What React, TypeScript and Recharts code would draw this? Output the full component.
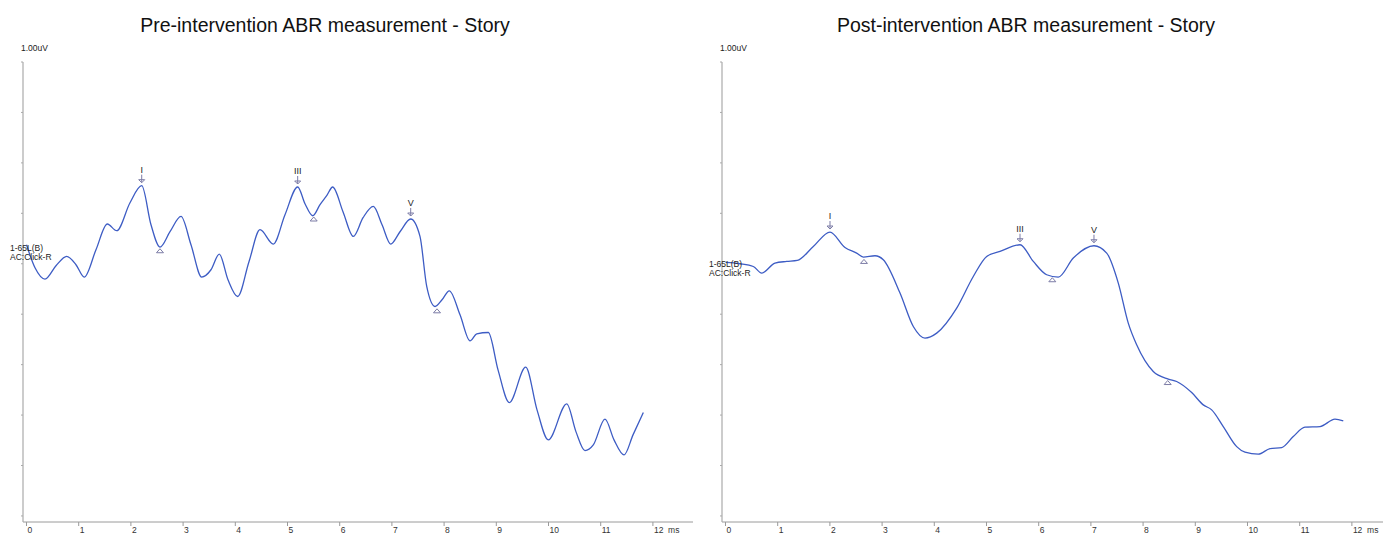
import React from "react";
import { ComposedChart, Line, Scatter, XAxis, YAxis } from "recharts";

// time (ms) values and amplitudes (arbitrary units, 1 unit = one y-tick step)
const preTime = [0, 0.163, 0.354, 0.565, 0.77, 0.948, 1.107, 1.331, 1.548, 1.728, 1.983, 2.207, 2.385, 2.557, 2.749, 2.96, 3.151, 3.356, 3.534, 3.693, 3.86, 4.046, 4.262, 4.473, 4.728, 4.952, 5.195, 5.335, 5.483, 5.623, 5.751, 5.866, 6.063, 6.261, 6.447, 6.644, 6.811, 6.977, 7.155, 7.36, 7.538, 7.667, 7.826, 7.96, 8.1, 8.305, 8.496, 8.625, 8.847, 9.033, 9.249, 9.563, 9.78, 9.996, 10.349, 10.527, 10.699, 10.858, 11.082, 11.255, 11.446, 11.619, 11.816];
const preAmp = [5.377, 4.92, 4.696, 4.96, 5.145, 4.98, 4.736, 5.278, 5.788, 5.655, 6.21, 6.548, 5.774, 5.331, 5.635, 5.938, 5.377, 4.736, 4.881, 5.192, 4.683, 4.351, 5.04, 5.675, 5.391, 5.972, 6.522, 6.19, 5.952, 6.171, 6.349, 6.522, 6.032, 5.542, 5.913, 6.137, 5.774, 5.391, 5.635, 5.887, 5.542, 4.55, 4.153, 4.286, 4.464, 3.988, 3.472, 3.611, 3.637, 2.897, 2.248, 2.95, 2.103, 1.508, 2.222, 1.667, 1.296, 1.409, 1.919, 1.508, 1.21, 1.607, 2.05];

const postTime = [0, 0.278, 0.533, 0.693, 0.948, 1.172, 1.375, 1.682, 2.002, 2.289, 2.513, 2.64, 2.864, 3.023, 3.343, 3.598, 3.822, 4.046, 4.429, 4.747, 5.004, 5.259, 5.642, 5.897, 6.153, 6.375, 6.663, 7.059, 7.303, 7.525, 7.716, 7.877, 8.195, 8.483, 8.644, 8.931, 9.153, 9.314, 9.536, 9.793, 9.952, 10.207, 10.431, 10.655, 10.877, 11.101, 11.389, 11.676, 11.835];
const postAmp = [5.026, 5.0, 4.946, 4.815, 5.014, 5.046, 5.066, 5.343, 5.629, 5.323, 5.212, 5.133, 5.159, 5.079, 4.419, 3.756, 3.526, 3.625, 4.121, 4.748, 5.145, 5.244, 5.377, 5.046, 4.782, 4.736, 5.113, 5.357, 5.212, 4.617, 3.823, 3.393, 2.863, 2.712, 2.665, 2.446, 2.202, 2.103, 1.772, 1.375, 1.264, 1.224, 1.335, 1.355, 1.573, 1.76, 1.772, 1.919, 1.885];

// peak markers (I, III, V)
const peakLabels = ["I", "III", "V"];
const prePeakTime = [2.207, 5.195, 7.36];
const prePeakAmp = [6.548, 6.522, 5.887];
const postPeakTime = [2.002, 5.642, 7.059];
const postPeakAmp = [5.629, 5.377, 5.357];

// trough markers (triangles)
const preTroughTime = [2.557, 5.502, 7.864];
const preTroughAmp = [5.258, 5.887, 4.067];
const postTroughTime = [2.653, 6.261, 8.471];
const postTroughAmp = [5.046, 4.683, 2.645];

const xTicks = [0, 1, 2, 3, 4, 5, 6, 7, 8, 9, 10, 11, 12];
const yTicks = [0, 1, 2, 3, 4, 5, 6, 7, 8, 9];

const titles = ["Pre-intervention ABR measurement - Story", "Post-intervention ABR measurement - Story"];
const scaleLabel = "1.00uV";
const channelLabel = ["1-65L(B)", "AC:Click-R"];

const FONT = "'Liberation Sans', Arial, Helvetica, sans-serif";
const LINE = "#3d5cc4";
const MARK = "#7c7ca6";

const zip = (t: number[], v: number[]) => t.map((x, i) => ({ t: x, v: v[i] }));

const PeakShape = (props: any) => {
  const { cx, cy, payload } = props;
  if (cx == null || cy == null) return <g />;
  return (
    <g>
      <text x={cx} y={cy - 13} textAnchor="middle" fontSize={9} fontFamily={FONT} fill="#222">
        {payload.label}
      </text>
      <line x1={cx} y1={cy - 11} x2={cx} y2={cy - 3} stroke={MARK} strokeWidth={1} />
      <polyline points={`${cx - 3},${cy - 6} ${cx},${cy - 3} ${cx + 3},${cy - 6}`} fill="none" stroke={MARK} strokeWidth={1} />
      <line x1={cx - 3} y1={cy - 6} x2={cx + 3} y2={cy - 6} stroke={MARK} strokeWidth={1} />
    </g>
  );
};

const TroughShape = (props: any) => {
  const { cx, cy } = props;
  if (cx == null || cy == null) return <g />;
  return (
    <path d={`M${cx - 3.5},${cy + 2} L${cx},${cy - 2} L${cx + 3.5},${cy + 2} Z`} fill="none" stroke={MARK} strokeWidth={1} />
  );
};

const NoTick = () => <g />;

type PanelProps = {
  left: number;
  width: number;
  marginRight: number;
  xMax: number;
  time: number[];
  amp: number[];
  pT: number[];
  pA: number[];
  tT: number[];
  tA: number[];
  title: string;
  titleCenter: number;
  chanTop: number;
};

const Panel = (p: PanelProps) => {
  const data = zip(p.time, p.amp);
  const peaks = p.pT.map((t, i) => ({ t, v: p.pA[i], label: peakLabels[i] }));
  const troughs = zip(p.tT, p.tA);
  return (
    <div style={{ position: "absolute", left: p.left, top: 0, width: p.width, height: 537 }}>
      <ComposedChart
        width={p.width}
        height={537}
        margin={{ top: 62, right: p.marginRight, bottom: 0, left: 17 }}
        data={data}
      >
        <XAxis
          dataKey="t"
          type="number"
          domain={[-0.067, p.xMax]}
          ticks={xTicks}
          interval={0}
          allowDataOverflow
          height={15}
          tickSize={4}
          tickMargin={1}
          stroke="#9a9a9a"
          tick={{ fontSize: 8.5, fill: "#333", textAnchor: "start", dx: 1, fontFamily: FONT }}
          tickFormatter={(v: number) => (v === 12 ? "12\u00a0\u00a0ms" : String(v))}
        />
        <YAxis
          type="number"
          domain={[-0.12, 9]}
          ticks={yTicks}
          allowDataOverflow
          width={6}
          tickSize={2}
          tickLine={{ stroke: "#aaaaaa" }}
          axisLine={{ stroke: "#aaaaaa", strokeWidth: 1.2 }}
          stroke="#aaaaaa"
          tick={NoTick}
        />
        <Line
          dataKey="v"
          type="monotone"
          stroke={LINE}
          strokeWidth={1.3}
          dot={false}
          activeDot={false}
          isAnimationActive={false}
        />
        <Scatter data={peaks} dataKey="v" shape={PeakShape} isAnimationActive={false} />
        <Scatter data={troughs} dataKey="v" shape={TroughShape} isAnimationActive={false} />
      </ComposedChart>
      <div
        style={{
          position: "absolute",
          left: p.titleCenter - 300,
          width: 600,
          top: 14,
          textAlign: "center",
          fontFamily: FONT,
          fontSize: 19.5,
          color: "#111",
          lineHeight: "22px",
          whiteSpace: "nowrap",
        }}
      >
        {p.title}
      </div>
      <div
        style={{
          position: "absolute",
          left: 21,
          top: 43,
          fontFamily: FONT,
          fontSize: 8.5,
          color: "#222",
          lineHeight: "10px",
        }}
      >
        {scaleLabel}
      </div>
      <div
        style={{
          position: "absolute",
          left: 10,
          top: p.chanTop,
          fontFamily: FONT,
          fontSize: 8.5,
          color: "#222",
          lineHeight: "9px",
          whiteSpace: "nowrap",
        }}
      >
        <div>{channelLabel[0]}</div>
        <div>{channelLabel[1]}</div>
      </div>
    </div>
  );
};

export default function App() {
  return (
    <div style={{ position: "absolute", left: 0, top: 0, width: 1383, height: 537, background: "#fff", overflow: "hidden" }}>
      <Panel
        left={0}
        width={700}
        marginRight={7}
        xMax={12.768}
        time={preTime}
        amp={preAmp}
        pT={prePeakTime}
        pA={prePeakAmp}
        tT={preTroughTime}
        tA={preTroughAmp}
        title={titles[0]}
        titleCenter={325}
        chanTop={244}
      />
      <Panel
        left={699}
        width={684}
        marginRight={0}
        xMax={12.596}
        time={postTime}
        amp={postAmp}
        pT={postPeakTime}
        pA={postPeakAmp}
        tT={postTroughTime}
        tA={postTroughAmp}
        title={titles[1]}
        titleCenter={327}
        chanTop={260}
      />
    </div>
  );
}
